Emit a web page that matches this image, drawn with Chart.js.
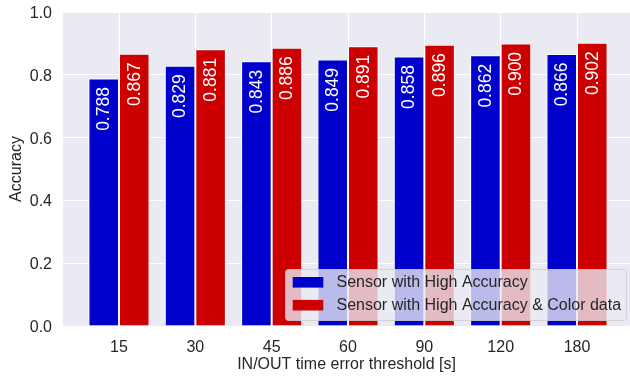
<!DOCTYPE html>
<html>
<head>
<meta charset="utf-8">
<script src="https://cdn.jsdelivr.net/npm/chart.js@4.4.0/dist/chart.umd.min.js"></script>
<style>
  html, body { margin: 0; padding: 0; background: #ffffff; }
  #wrap { width: 630px; height: 376px; }
</style>
</head>
<body>
<div id="wrap"><canvas id="c" width="630" height="376"></canvas></div>
<script>
// ---- data ----
const categories = ['15', '30', '45', '60', '90', '120', '180'];
const highAccuracy = [0.788, 0.829, 0.843, 0.849, 0.858, 0.862, 0.866];
const highAccuracyColor = [0.867, 0.881, 0.886, 0.891, 0.896, 0.900, 0.902];
const seriesLabels = ['Sensor with High Accuracy', 'Sensor with High Accuracy & Color data'];
const yTicks = [0.0, 0.2, 0.4, 0.6, 0.8, 1.0];

const FONT = "'Liberation Sans', Arial, sans-serif";
const TEXT = '#262626';

const bgPlugin = {
  id: 'bgPlugin',
  beforeDraw(chart) {
    const {ctx, chartArea: a} = chart;
    ctx.save();
    ctx.fillStyle = '#EAEAF2';
    ctx.fillRect(a.left, a.top, a.right - a.left, a.bottom - a.top);
    ctx.restore();
  }
};

const barLabelPlugin = {
  id: 'barLabelPlugin',
  afterDatasetsDraw(chart) {
    const {ctx} = chart;
    ctx.save();
    ctx.fillStyle = '#ffffff';
    ctx.font = '17.5px ' + FONT;
    ctx.textAlign = 'right';
    ctx.textBaseline = 'middle';
    chart.data.datasets.forEach((ds, di) => {
      const meta = chart.getDatasetMeta(di);
      meta.data.forEach((el, i) => {
        const v = ds.data[i].y;
        ctx.save();
        ctx.translate(el.x + 0.5, el.y + 8.5);
        ctx.rotate(-Math.PI / 2);
        ctx.fillText(v.toFixed(3), 0, 0);
        ctx.restore();
      });
    });
    ctx.restore();
  }
};

const legendPlugin = {
  id: 'legendPlugin',
  afterDraw(chart) {
    const {ctx} = chart;
    const box = {x: 285, y: 269, w: 341, h: 51};
    ctx.save();
    ctx.beginPath();
    ctx.roundRect(box.x + 0.5, box.y + 0.5, box.w, box.h, 3);
    ctx.fillStyle = 'rgba(234,234,242,0.8)';
    ctx.fill();
    ctx.strokeStyle = 'rgba(204,204,204,0.8)';
    ctx.lineWidth = 1;
    ctx.stroke();
    ctx.font = '16px ' + FONT;
    ctx.textBaseline = 'middle';
    ctx.textAlign = 'left';
    const rows = [282.3, 305.2];
    chart.data.datasets.forEach((ds, i) => {
      ctx.fillStyle = ds.backgroundColor;
      ctx.fillRect(292.7, rows[i] - 5.3, 30.6, 10.6);
      ctx.fillStyle = TEXT;
      ctx.fillText(ds.label, 336.5, rows[i] + 0.5);
    });
    ctx.restore();
  }
};

new Chart(document.getElementById('c'), {
  type: 'bar',
  data: {
    datasets: [
      {
        label: seriesLabels[0],
        data: categories.map((c, i) => ({x: i, y: highAccuracy[i]})),
        backgroundColor: '#0000CC',
        borderColor: '#ffffff',
        borderWidth: 1
      },
      {
        label: seriesLabels[1],
        data: categories.map((c, i) => ({x: i, y: highAccuracyColor[i]})),
        backgroundColor: '#CC0000',
        borderColor: '#ffffff',
        borderWidth: 1
      }
    ]
  },
  options: {
    responsive: false,
    animation: false,
    devicePixelRatio: 1,
    categoryPercentage: 0.8,
    barPercentage: 1.0,
    layout: { padding: { top: 12, right: 0, left: 0, bottom: 0 } },
    plugins: {
      legend: { display: false },
      tooltip: { enabled: false }
    },
    scales: {
      x: {
        type: 'linear',
        offset: false,
        min: -0.7336,
        max: 6.694,
        afterBuildTicks(scale) {
          scale.ticks = categories.map((c, i) => ({value: i}));
        },
        afterFit(scale) {
          scale.height = 50;
          scale.paddingLeft = 0; scale.paddingRight = 0;
          scale.paddingTop = 0; scale.paddingBottom = 0;
        },
        grid: { color: '#ffffff', lineWidth: 1, drawTicks: false, offset: false },
        border: { display: false },
        ticks: {
          padding: 12,
          maxRotation: 0,
          autoSkip: false,
          color: TEXT,
          font: { family: FONT, size: 16 },
          callback: (v) => categories[Math.round(v)]
        },
        title: {
          display: true,
          text: 'IN/OUT time error threshold [s]',
          color: TEXT,
          font: { family: FONT, size: 16 },
          padding: { top: 0, bottom: 1.5 }
        }
      },
      y: {
        min: 0,
        max: 1,
        afterBuildTicks(scale) {
          scale.ticks = yTicks.map(v => ({value: v}));
        },
        afterFit(scale) {
          scale.width = 63;
          scale.paddingTop = 0; scale.paddingBottom = 0;
          scale.paddingLeft = 0; scale.paddingRight = 0;
        },
        grid: { color: '#ffffff', lineWidth: 1, drawTicks: false },
        border: { display: false },
        ticks: {
          padding: 11,
          labelOffset: 1.5,
          color: TEXT,
          font: { family: FONT, size: 16 },
          callback: (v) => Number(v).toFixed(1)
        },
        title: {
          display: true,
          text: 'Accuracy',
          color: TEXT,
          font: { family: FONT, size: 16 },
          padding: { top: 7, bottom: 0 }
        }
      }
    }
  },
  plugins: [bgPlugin, barLabelPlugin, legendPlugin]
});
</script>
</body>
</html>
